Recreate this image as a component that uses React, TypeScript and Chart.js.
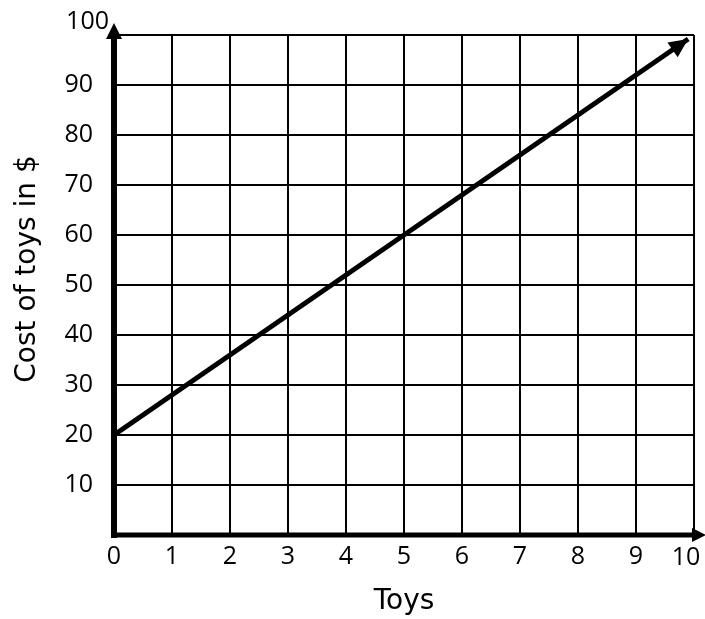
import React, { useEffect, useRef } from "react";
import { Chart, registerables } from "chart.js";

Chart.register(...registerables);

// Data
const toys: number[] = [0, 9.9];
const cost: number[] = [20, 99.2];
const xTicks: number[] = [0, 1, 2, 3, 4, 5, 6, 7, 8, 9, 10];
const yTicks: number[] = [0, 10, 20, 30, 40, 50, 60, 70, 80, 90, 100];
const xTitle = "Toys";
const yTitle = "Cost of toys in $";

const tickFont = { family: "Open Sans", size: 25 };
const titleFont = { family: "DejaVu Sans", size: 28 };

function arrowHead(ctx: CanvasRenderingContext2D, x1: number, y1: number, x2: number, y2: number, len: number, half: number) {
  const a = Math.atan2(y2 - y1, x2 - x1);
  ctx.beginPath();
  ctx.moveTo(x2, y2);
  ctx.lineTo(x2 - len * Math.cos(a) + half * Math.sin(a), y2 - len * Math.sin(a) - half * Math.cos(a));
  ctx.lineTo(x2 - len * Math.cos(a) - half * Math.sin(a), y2 - len * Math.sin(a) + half * Math.cos(a));
  ctx.closePath();
  ctx.fill();
}

const axesPlugin = {
  id: "axesArrows",
  afterDatasetsDraw(chart: any) {
    const ctx: CanvasRenderingContext2D = chart.ctx;
    const { left, right, top, bottom } = chart.chartArea;
    ctx.save();
    ctx.fillStyle = "#000";
    ctx.strokeStyle = "#000";
    // y axis
    ctx.lineWidth = 6;
    ctx.beginPath();
    ctx.moveTo(left, bottom + 3);
    ctx.lineTo(left, top - 2);
    ctx.stroke();
    arrowHead(ctx, left, bottom, left, top - 12, 16, 8);
    // x axis
    ctx.lineWidth = 5;
    ctx.beginPath();
    ctx.moveTo(left - 3, bottom);
    ctx.lineTo(right + 2, bottom);
    ctx.stroke();
    arrowHead(ctx, left, bottom, right + 12, bottom, 14, 7);
    // data line arrow
    const meta = chart.getDatasetMeta(0);
    const pts = meta.data;
    if (pts.length >= 2) {
      const p1 = pts[pts.length - 2];
      const p2 = pts[pts.length - 1];
      arrowHead(ctx, p1.x, p1.y, p2.x, p2.y, 19, 9);
    }
    // top y tick label (sits above the top grid line, next to the arrow)
    const ys = chart.scales.y;
    const xs = chart.scales.x;
    const topVal = yTicks[yTicks.length - 1];
    ctx.font = `${tickFont.size}px "${tickFont.family}"`;
    ctx.textAlign = "right";
    ctx.textBaseline = "middle";
    ctx.fillText(String(topVal), left - 5, ys.getPixelForValue(topVal) - 13);
    // last x tick label (kept inside the canvas)
    const lastX = xTicks[xTicks.length - 1];
    ctx.textAlign = "center";
    ctx.fillText(String(lastX), xs.getPixelForValue(lastX) - 8, bottom + 23);
    // y axis title
    ctx.font = `${titleFont.size}px "${titleFont.family}"`;
    ctx.textAlign = "center";
    ctx.textBaseline = "middle";
    ctx.translate(28, (top + bottom) / 2 - 16);
    ctx.rotate(-Math.PI / 2);
    ctx.fillText(yTitle, 0, 0);
    ctx.restore();
  },
};

export default function App() {
  const ref = useRef<HTMLCanvasElement | null>(null);
  useEffect(() => {
    if (!ref.current) return;
    const data = toys.map((t, i) => ({ x: t, y: cost[i] }));
    const chart = new Chart(ref.current, {
      type: "scatter",
      data: {
        datasets: [
          {
            data,
            showLine: true,
            borderColor: "#000",
            backgroundColor: "#000",
            borderWidth: 5,
            pointRadius: 0,
            borderCapStyle: "butt",
          } as any,
        ],
      },
      plugins: [axesPlugin],
      options: {
        animation: false,
        responsive: true,
        maintainAspectRatio: false,
        layout: { padding: { top: 35, right: 11, left: 0, bottom: 0 } },
        plugins: { legend: { display: false }, tooltip: { enabled: false } },
        scales: {
          x: {
            type: "linear",
            min: xTicks[0],
            max: xTicks[xTicks.length - 1],
            afterBuildTicks: (s: any) => {
              s.ticks = xTicks.map((v) => ({ value: v }));
            },
            afterFit: (s: any) => {
              s.height = 84;
              s.paddingRight = 0;
              s.paddingLeft = 0;
            },
            ticks: {
              color: "#000",
              font: tickFont,
              padding: 7,
              maxRotation: 0,
              autoSkip: false,
              callback: (v: any) => (v === xTicks[xTicks.length - 1] ? "" : String(v)),
            },
            grid: { color: "#000", lineWidth: 2, drawTicks: false },
            border: { display: false },
            title: { display: true, text: xTitle, color: "#000", font: titleFont, padding: { top: 0, bottom: 0 } },
          },
          y: {
            type: "linear",
            min: yTicks[0],
            max: yTicks[yTicks.length - 1],
            afterBuildTicks: (s: any) => {
              s.ticks = yTicks.map((v) => ({ value: v }));
            },
            afterFit: (s: any) => {
              s.width = 114;
              s.paddingTop = 0;
              s.paddingBottom = 0;
            },
            ticks: {
              color: "#000",
              font: tickFont,
              padding: 21,
              autoSkip: false,
              callback: (v: any) => (v === yTicks[0] || v === yTicks[yTicks.length - 1] ? "" : String(v)),
            },
            grid: { color: "#000", lineWidth: 2, drawTicks: false },
            border: { display: false },
          },
        },
      } as any,
    });
    return () => chart.destroy();
  }, []);
  return (
    <div style={{ position: "absolute", left: 0, top: 0, width: 705, height: 619, background: "#fff" }}>
      <canvas ref={ref} />
    </div>
  );
}
